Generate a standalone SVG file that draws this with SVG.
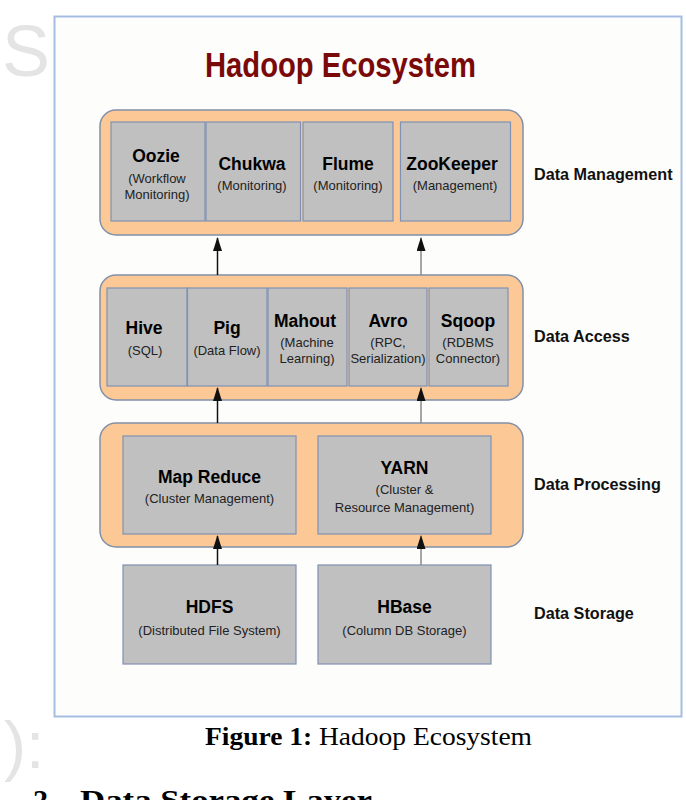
<svg xmlns="http://www.w3.org/2000/svg" width="686" height="800" viewBox="0 0 686 800">
<style>
.layer{fill:#fcc996;stroke:#8090a8;stroke-width:1.5}
.box{fill:#c0c0c0;stroke:#7f91b4;stroke-width:1.2}
.t{font-family:"Liberation Sans",Arial,sans-serif;font-weight:bold;font-size:17.5px;fill:#000;text-anchor:middle}
.s{font-family:"Liberation Sans",Arial,sans-serif;font-size:13px;fill:#222;text-anchor:middle}
.lab{font-family:"Liberation Sans",Arial,sans-serif;font-weight:bold;font-size:16.2px;fill:#111}
.wm{font-family:"Liberation Sans",Arial,sans-serif;fill:#e4e4e4}
.cap{font-family:"Liberation Serif","Times New Roman",serif;fill:#000}
.ab{stroke:#111;stroke-width:1.5;fill:none}
.ag{stroke:#888;stroke-width:1.5;fill:none}
</style>
<defs>
<marker id="head" markerWidth="14" markerHeight="9" refX="13" refY="4.5" orient="auto" markerUnits="userSpaceOnUse" viewBox="0 0 14 9">
<path d="M14 4.5 L0 0 L0 9 Z" fill="#111"/>
</marker>
</defs>
<rect width="686" height="800" fill="#ffffff"/>
<text class="wm" x="2" y="76" font-size="72">S</text>
<text class="wm" x="4" y="768" font-size="66">):</text>
<rect x="54.5" y="16.5" width="627" height="700" fill="#fdfdfb" stroke="#a6bde3" stroke-width="2"/>
<text x="340.5" y="77" font-family="'Liberation Sans',Arial,sans-serif" font-weight="bold" font-size="35" fill="#7a0a0a" text-anchor="middle" textLength="271" lengthAdjust="spacingAndGlyphs">Hadoop Ecosystem</text>

<g id="layer-management">
<rect class="layer" x="100" y="110" width="423" height="125" rx="16"/>
<text class="lab" x="534" y="180">Data Management</text>
</g>
<g id="oozie"><rect class="box" x="111" y="122" width="94" height="99"/><text class="t" x="156" y="162">Oozie</text><text class="s" x="157" y="183">(Workflow</text><text class="s" x="157" y="199">Monitoring)</text></g>
<g id="chukwa"><rect class="box" x="206" y="122" width="94.5" height="99"/><text class="t" x="252" y="170">Chukwa</text><text class="s" x="252" y="190">(Monitoring)</text></g>
<g id="flume"><rect class="box" x="303" y="122" width="90" height="99"/><text class="t" x="348" y="170">Flume</text><text class="s" x="348" y="190">(Monitoring)</text></g>
<g id="zookeeper"><rect class="box" x="400.5" y="122" width="110" height="99"/><text class="t" x="452" y="170">ZooKeeper</text><text class="s" x="455" y="190">(Management)</text></g>

<g id="layer-access">
<rect class="layer" x="100" y="275" width="423" height="125" rx="16"/>
<text class="lab" x="534" y="342">Data Access</text>
</g>
<g id="hive"><rect class="box" x="107" y="288" width="80" height="98"/><text class="t" x="144" y="334">Hive</text><text class="s" x="145" y="355">(SQL)</text></g>
<g id="pig"><rect class="box" x="187.5" y="288" width="79.5" height="98"/><text class="t" x="227" y="334">Pig</text><text class="s" x="227" y="355">(Data Flow)</text></g>
<g id="mahout"><rect class="box" x="268" y="288" width="79" height="98"/><text class="t" x="305" y="327">Mahout</text><text class="s" x="307" y="347">(Machine</text><text class="s" x="307" y="363">Learning)</text></g>
<g id="avro"><rect class="box" x="349" y="288" width="78" height="98"/><text class="t" x="388" y="327">Avro</text><text class="s" x="388" y="347">(RPC,</text><text class="s" x="388" y="363">Serialization)</text></g>
<g id="sqoop"><rect class="box" x="429" y="288" width="79" height="98"/><text class="t" x="468" y="327">Sqoop</text><text class="s" x="468" y="347">(RDBMS</text><text class="s" x="468" y="363">Connector)</text></g>

<g id="layer-processing">
<rect class="layer" x="100" y="423" width="423" height="124" rx="16"/>
<text class="lab" x="534" y="490">Data Processing</text>
</g>
<g id="mapreduce"><rect class="box" x="123" y="436" width="173" height="98"/><text class="t" x="209.5" y="483" font-size="18.5">Map Reduce</text><text class="s" x="209.5" y="503">(Cluster Management)</text></g>
<g id="yarn"><rect class="box" x="318" y="436" width="173" height="98"/><text class="t" x="404.5" y="474" font-size="18.5">YARN</text><text class="s" x="404.5" y="494">(Cluster &amp;</text><text class="s" x="404.5" y="512">Resource Management)</text></g>

<g id="layer-storage">
<text class="lab" x="534" y="619">Data Storage</text>
</g>
<g id="hdfs"><rect class="box" x="123" y="565" width="173" height="99"/><text class="t" x="209.5" y="613">HDFS</text><text class="s" x="209.5" y="635">(Distributed File System)</text></g>
<g id="hbase"><rect class="box" x="318" y="565" width="173" height="99"/><text class="t" x="404.5" y="613">HBase</text><text class="s" x="404.5" y="635">(Column DB Storage)</text></g>

<g id="connectors">
<line class="ab" x1="217.5" y1="275" x2="217.5" y2="238" marker-end="url(#head)"/>
<line class="ag" x1="421" y1="275" x2="421" y2="238" marker-end="url(#head)"/>
<line class="ab" x1="217.5" y1="423" x2="217.5" y2="388" marker-end="url(#head)"/>
<line class="ag" x1="421" y1="423" x2="421" y2="388" marker-end="url(#head)"/>
<line class="ab" x1="217.5" y1="565" x2="217.5" y2="536" marker-end="url(#head)"/>
<line class="ag" x1="421" y1="565" x2="421" y2="536" marker-end="url(#head)"/>
</g>

<text class="cap" x="205" y="745" font-size="25" textLength="327" lengthAdjust="spacingAndGlyphs"><tspan font-weight="bold">Figure 1:</tspan> Hadoop Ecosystem</text>
<text class="cap" x="33" y="810" font-size="30" font-weight="bold">2</text>
<text class="cap" x="80" y="810" font-size="30" font-weight="bold" textLength="292" lengthAdjust="spacingAndGlyphs">Data Storage Layer</text>
</svg>
